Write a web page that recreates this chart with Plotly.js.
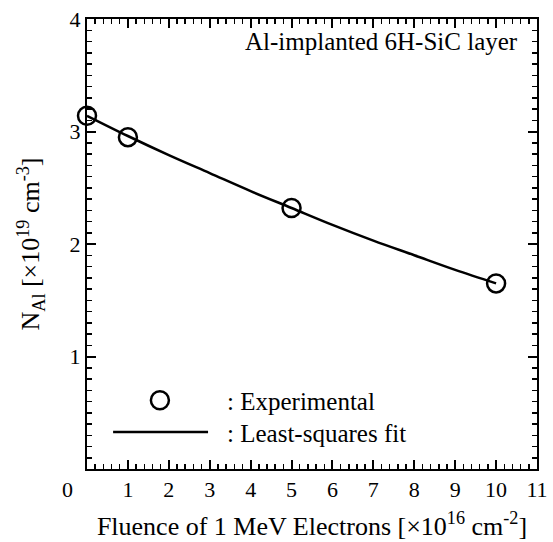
<!DOCTYPE html>
<html>
<head>
<meta charset="utf-8">
<script src="https://cdn.plot.ly/plotly-3.0.1.min.js"></script>
<style>html,body{margin:0;padding:0;background:#fff;}</style>
</head>
<body>
<div id="chart" style="width:553px;height:542px"></div>
<script>
// Experimental data
var fluence = [0, 1, 5, 10];
var nAl = [3.14, 2.95, 2.32, 1.65];
// Least-squares fit curve
var fitFluence = [0, 1, 2, 3, 4, 5, 6, 7, 8, 9, 10];
var fitNAl = [3.14, 2.96, 2.79, 2.63, 2.47, 2.32, 2.17, 2.03, 1.90, 1.77, 1.65];
// Axis ranges
var xRange = [0, 11];
var yRange = [0, 4];

var FONT = 'Liberation Serif';

var traces = [
  {x: fitFluence, y: fitNAl, type: 'scatter', mode: 'lines',
   line: {color: '#000', width: 2.5, shape: 'spline'}, showlegend: false, hoverinfo: 'skip'},
  {x: fluence, y: nAl, type: 'scatter', mode: 'markers',
   marker: {symbol: 'circle-open', size: 18, color: '#000', line: {color: '#000', width: 2.5}},
   cliponaxis: false, showlegend: false}
];

var layout = {
  width: 553, height: 542,
  margin: {l: 87, r: 16, t: 19, b: 73},
  font: {family: FONT, color: '#000', size: 22},
  showlegend: false,
  xaxis: {range: xRange, dtick: 1, ticks: 'inside', ticklen: 9, tickwidth: 2, tickcolor: '#000',
    minor: {ticks: 'inside', ticklen: 5, dtick: 0.2, tickwidth: 1.5},
    showline: true, linewidth: 2, linecolor: '#000', mirror: 'ticks', showgrid: false, zeroline: false,
    labelalias: {'0': ' '},
    tickfont: {family: FONT, size: 22, color: '#000'},
    title: {text: 'Fluence of 1 MeV Electrons [×10<sup>16</sup> cm<sup>-2</sup>]',
            font: {family: FONT, size: 26, color: '#000'}, standoff: 15}},
  yaxis: {range: yRange, dtick: 1, ticks: 'inside', ticklen: 9, tickwidth: 2, tickcolor: '#000',
    minor: {ticks: 'inside', ticklen: 5, dtick: 0.1, tickwidth: 1.5},
    showline: true, linewidth: 2, linecolor: '#000', mirror: 'ticks', showgrid: false, zeroline: false,
    labelalias: {'0': ' '},
    tickfont: {family: FONT, size: 22, color: '#000'},
    title: {text: 'N<sub>Al</sub> [×10<sup>19</sup> cm<sup>-3</sup>]',
            font: {family: FONT, size: 26, color: '#000'}, standoff: 22}},
  shapes: [
    {type: 'circle', xref: 'paper', yref: 'paper', xsizemode: 'pixel', ysizemode: 'pixel',
     xanchor: 0.162, yanchor: 0.153, x0: -9, x1: 9, y0: -9, y1: 9, line: {color: '#000', width: 2.5}},
    {type: 'line', xref: 'paper', yref: 'paper', x0: 0.058, x1: 0.269, y0: 0.082, y1: 0.082,
     line: {color: '#000', width: 2.5}}
  ],
  annotations: [
    {text: 'Al-implanted 6H-SiC layer', xref: 'paper', yref: 'paper', x: 0.962, y: 0.949,
     xanchor: 'right', yanchor: 'middle', showarrow: false, font: {family: FONT, size: 25, color: '#000'}},
    {text: ': Experimental', xref: 'paper', yref: 'paper', x: 0.307, y: 0.150,
     xanchor: 'left', yanchor: 'middle', showarrow: false, font: {family: FONT, size: 25, color: '#000'}},
    {text: ': Least-squares fit', xref: 'paper', yref: 'paper', x: 0.307, y: 0.078,
     xanchor: 'left', yanchor: 'middle', showarrow: false, font: {family: FONT, size: 25, color: '#000'}},
    {text: '0', xref: 'paper', yref: 'paper', x: 0, y: 0, xshift: -20, yshift: -6,
     xanchor: 'center', yanchor: 'top', showarrow: false, font: {family: FONT, size: 22, color: '#000'}}
  ]
};

Plotly.newPlot('chart', traces, layout, {staticPlot: true});
</script>
</body>
</html>
